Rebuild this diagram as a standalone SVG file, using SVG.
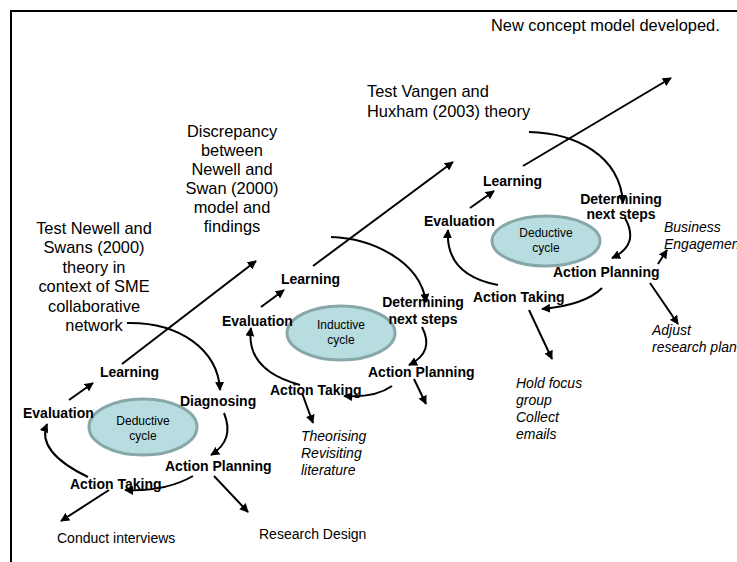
<svg xmlns="http://www.w3.org/2000/svg" width="737" height="562" viewBox="0 0 737 562">
<style>
text{font-family:"Liberation Sans",Arial,sans-serif;fill:#000}
.b{font-weight:bold;font-size:14px}
.r{font-size:14px}
.i{font-size:14px;font-style:italic}
.big{font-size:16.4px}
.c{font-size:12px;text-anchor:middle}
.m{text-anchor:middle}
.ell{fill:#b7dde0;stroke:#88a7a9;stroke-width:3}
.ln{fill:none;stroke:#000;stroke-width:2;marker-end:url(#ah)}
</style>
<defs>
<marker id="ah" viewBox="0 0 10 10" refX="9" refY="5" markerWidth="4.5" markerHeight="4.5" orient="auto" markerUnits="strokeWidth">
<path d="M0,0 L10,5 L0,10 z" fill="#000"/>
</marker>
</defs>
<rect width="737" height="562" fill="#fff"/>
<g id="frame">
<path d="M11,562 L11,11 L737,11" fill="none" stroke="#000" stroke-width="2"/>
</g>
<g id="connectors">
<path class="ln" d="M127,323 C180,322 218,350 220,390"/>
<path class="ln" d="M122,364 L256,261"/>
<path class="ln" d="M69,400 L93,383"/>
<path class="ln" d="M88,477 Q36,452 47,424"/>
<path class="ln" d="M224,413 Q235,440 211,455"/>
<path class="ln" d="M193,476 Q165,492 125,490"/>
<path class="ln" d="M109,490 L61,521"/>
<path class="ln" d="M214,476 L248,512"/>
<path class="ln" d="M331,237 C370,238 420,260 426,302"/>
<path class="ln" d="M313,266 L453,162"/>
<path class="ln" d="M261,307 L284,290"/>
<path class="ln" d="M300,385 Q245,370 251,328"/>
<path class="ln" d="M422,327 Q435,352 409,365"/>
<path class="ln" d="M392,386 Q375,398 344,396"/>
<path class="ln" d="M414,379 L426,404"/>
<path class="ln" d="M302,393 L313,423"/>
<path class="ln" d="M529,132 C575,133 620,155 623,203"/>
<path class="ln" d="M523,166 L671,78"/>
<path class="ln" d="M470,208 L494,191"/>
<path class="ln" d="M498,285 Q445,275 448,230"/>
<path class="ln" d="M625,218 Q640,245 612,258"/>
<path class="ln" d="M602,288 Q585,305 542,309"/>
<path class="ln" d="M658,264 L667,250"/>
<path class="ln" d="M650,283 L678,324"/>
<path class="ln" d="M529,310 L552,359"/>
</g>
<g id="cycle1">
<ellipse class="ell" cx="143" cy="427" rx="54" ry="28"/>
<text class="c" x="143" y="425">Deductive</text>
<text class="c" x="143" y="440">cycle</text>
</g>
<g id="c1-learning"><text class="b" x="100" y="377">Learning</text></g>
<g id="c1-evaluation"><text class="b" x="23" y="418">Evaluation</text></g>
<g id="c1-diagnosing"><text class="b" x="180" y="406">Diagnosing</text></g>
<g id="c1-planning"><text class="b" x="165" y="471">Action Planning</text></g>
<g id="c1-taking"><text class="b" x="70" y="489">Action Taking</text></g>
<g id="c1-interviews"><text class="r" x="57" y="543">Conduct interviews</text></g>
<g id="c1-design"><text class="r" x="259" y="539">Research Design</text></g>
<g id="c1-theory">
<text class="big m" x="94" y="234">Test Newell and</text>
<text class="big m" x="94" y="253.4">Swans (2000)</text>
<text class="big m" x="94" y="272.8">theory in</text>
<text class="big m" x="94" y="292.2">context of SME</text>
<text class="big m" x="94" y="311.6">collaborative</text>
<text class="big m" x="94" y="331">network</text>
</g>
<g id="cycle2">
<ellipse class="ell" cx="341" cy="333" rx="54" ry="27"/>
<text class="c" x="341" y="329">Inductive</text>
<text class="c" x="341" y="344">cycle</text>
</g>
<g id="c2-learning"><text class="b" x="281" y="284">Learning</text></g>
<g id="c2-evaluation"><text class="b" x="222" y="326">Evaluation</text></g>
<g id="c2-determining">
<text class="b m" x="423" y="307">Determining</text>
<text class="b m" x="423" y="324">next steps</text>
</g>
<g id="c2-planning"><text class="b" x="368" y="377">Action Planning</text></g>
<g id="c2-taking"><text class="b" x="270" y="395">Action Taking</text></g>
<g id="c2-theorising">
<text class="i" x="301" y="441">Theorising</text>
<text class="i" x="301" y="458">Revisiting</text>
<text class="i" x="301" y="475">literature</text>
</g>
<g id="c2-discrepancy">
<text class="big m" x="232" y="136.5">Discrepancy</text>
<text class="big m" x="232" y="155.5">between</text>
<text class="big m" x="232" y="174.5">Newell and</text>
<text class="big m" x="232" y="193.5">Swan (2000)</text>
<text class="big m" x="232" y="212.5">model and</text>
<text class="big m" x="232" y="231.5">findings</text>
</g>
<g id="cycle3">
<ellipse class="ell" cx="546" cy="241" rx="54" ry="25"/>
<text class="c" x="546" y="237">Deductive</text>
<text class="c" x="546" y="252">cycle</text>
</g>
<g id="c3-learning"><text class="b" x="483" y="186">Learning</text></g>
<g id="c3-evaluation"><text class="b" x="424" y="226">Evaluation</text></g>
<g id="c3-determining">
<text class="b m" x="621" y="204">Determining</text>
<text class="b m" x="621" y="219">next steps</text>
</g>
<g id="c3-planning"><text class="b" x="553" y="277">Action Planning</text></g>
<g id="c3-taking"><text class="b" x="473" y="302">Action Taking</text></g>
<g id="c3-business">
<text class="i" x="664" y="232">Business</text>
<text class="i" x="664" y="249">Engagement</text>
</g>
<g id="c3-adjust">
<text class="i" x="652" y="335">Adjust</text>
<text class="i" x="652" y="352">research plan</text>
</g>
<g id="c3-hold">
<text class="i" x="516" y="388">Hold focus</text>
<text class="i" x="516" y="405">group</text>
<text class="i" x="516" y="422">Collect</text>
<text class="i" x="516" y="439">emails</text>
</g>
<g id="c3-theory">
<text class="big" x="367" y="97">Test Vangen and</text>
<text class="big" x="367" y="117">Huxham (2003) theory</text>
</g>
<g id="outcome"><text class="big" x="491" y="31">New concept model developed.</text></g>
</svg>
